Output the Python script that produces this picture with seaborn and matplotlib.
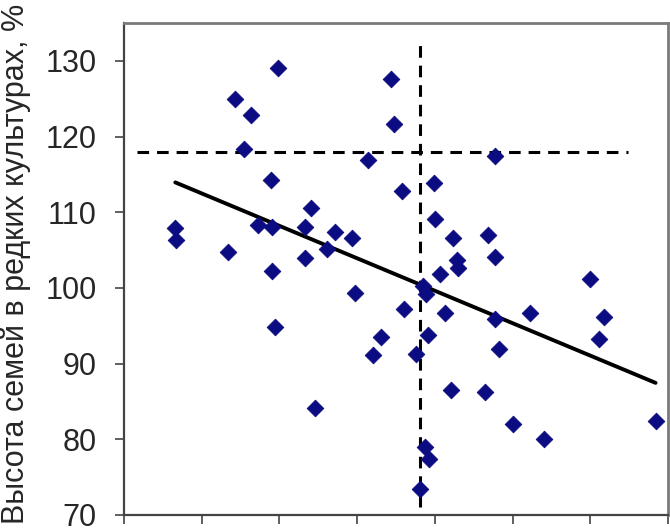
import pandas as pd
import seaborn as sns
import matplotlib.pyplot as plt

# точки (подписи оси X в оригинале обрезаны)
x_vals = [79.8, 74.3, 76.3, 75.5, 78.9, 84.1, 66.6, 66.7, 77.3, 79.0,
          83.3, 87.1, 73.4, 83.3, 86.1, 79.0, 79.4, 84.6, 94.4, 94.8,
          91.4, 107.7, 99.9, 95.8, 100.0, 102.3, 106.8, 102.8, 103.0, 107.8,
          89.4, 100.6, 98.5, 98.8, 89.7, 96.0, 101.3, 107.8, 112.3, 120.0,
          121.8, 121.1, 93.1, 92.0, 97.6, 99.1, 108.2, 102.1, 106.5, 110.1,
          114.0, 128.4, 98.7, 99.2, 98.05]
y_vals = [129.0, 125.0, 122.8, 118.4, 114.2, 110.5, 107.9, 106.3, 108.3, 108.1,
          108.1, 107.4, 104.8, 103.9, 105.2, 102.2, 94.8, 84.1, 127.6, 121.7,
          116.9, 117.4, 113.8, 112.8, 109.1, 106.6, 107.0, 103.7, 102.6, 104.1,
          106.6, 101.9, 100.2, 99.2, 99.3, 97.2, 96.7, 95.9, 96.7, 101.2,
          96.1, 93.2, 93.5, 91.1, 91.3, 93.8, 91.9, 86.5, 86.2, 82.0,
          80.1, 82.4, 79.0, 77.4, 73.4]

h_level = 118
h_span = (61.7, 124.8)
v_level = 98.05
v_span = (71.1, 132.5)

y_ticks = [70, 80, 90, 100, 110, 120, 130]
x_ticks = [60, 70, 80, 90, 100, 110, 120, 130]
y_label = 'Высота семей в редких культурах, %'

df = pd.DataFrame({'x': x_vals, 'y': y_vals})

sns.set_style('ticks')
plt.rcParams['font.family'] = ['Liberation Sans', 'DejaVu Sans']

fig = plt.figure(figsize=(6.7, 5.31), dpi=100)
ax = fig.add_axes([124 / 670, 16 / 531, 544 / 670, 492 / 531])

sns.regplot(data=df, x='x', y='y', ax=ax, ci=None, scatter=False,
            line_kws={'color': 'black', 'lw': 2.8})
ax.hlines(h_level, *h_span, colors='black', lw=2.2, linestyles=(0, (3.8, 2.6)))
ax.vlines(v_level, *v_span, colors='black', lw=2.2, linestyles=(0, (3.8, 2.6)))
sns.scatterplot(data=df, x='x', y='y', ax=ax, marker='D', s=72,
                color='#0b0b82', edgecolor='#0b0b82', linewidth=0.6, zorder=3)

ax.set_xlim(60, 130)
ax.set_ylim(70, 135)
ax.set_xticks(x_ticks)
ax.set_yticks(y_ticks)
ax.tick_params(labelbottom=False, direction='out', length=6.5, width=1.2,
               color='#444444', labelsize=22, pad=13)
ax.set_xlabel('')
ax.set_ylabel('')
for side in ['left', 'bottom']:
    ax.spines[side].set_color('#444444')
    ax.spines[side].set_linewidth(1.6)
for side in ['top', 'right']:
    ax.spines[side].set_visible(True)
    ax.spines[side].set_color('#7a7a7a')
    ax.spines[side].set_linewidth(2.0)

fig.text(16 / 670, 1 - 264 / 531, y_label, rotation=90, ha='center', va='center',
         fontsize=22)

fig.savefig('out.png', dpi=100)
